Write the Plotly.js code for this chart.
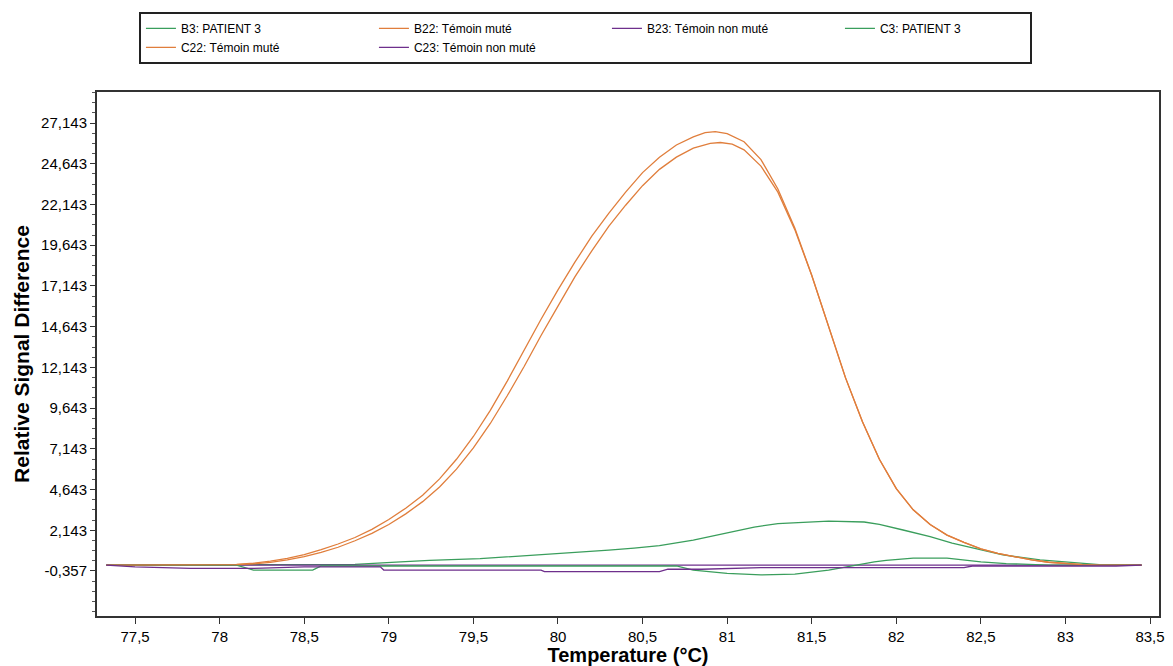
<!DOCTYPE html>
<html>
<head>
<meta charset="utf-8">
<script src="https://cdn.plot.ly/plotly-3.0.1.min.js"></script>
<style>html,body{margin:0;padding:0;background:#fff;}#chart{width:1173px;height:666px;}</style>
</head>
<body>
<div id="chart"></div>
<script>
// Series names
const seriesNames = ['B3: PATIENT 3', 'B22: Témoin muté', 'B23: Témoin non muté', 'C3: PATIENT 3', 'C22: Témoin muté', 'C23: Témoin non muté'];

// B22 (mutated control, higher peak)
const b22T = [77.33, 77.6, 77.8, 78.0, 78.1, 78.2, 78.3, 78.4, 78.5, 78.6, 78.7, 78.8, 78.9, 79.0, 79.1, 79.2, 79.3, 79.4, 79.5, 79.6, 79.7, 79.8, 79.9, 80.0, 80.1, 80.2, 80.3, 80.4, 80.5, 80.6, 80.7, 80.8, 80.87, 80.93, 81.0, 81.1, 81.2, 81.3, 81.4, 81.5, 81.6, 81.7, 81.8, 81.9, 82.0, 82.1, 82.2, 82.3, 82.4, 82.5, 82.6, 82.7, 82.8, 82.9, 83.0, 83.1, 83.2, 83.3, 83.45];
const b22V = [0, 0, 0.01, 0.02, 0.05, 0.12, 0.25, 0.42, 0.65, 0.95, 1.3, 1.7, 2.2, 2.8, 3.5, 4.3, 5.3, 6.5, 7.9, 9.5, 11.3, 13.2, 15.1, 16.9, 18.6, 20.2, 21.6, 22.9, 24.1, 25.05, 25.8, 26.3, 26.55, 26.62, 26.5, 26.0, 24.9, 23.1, 20.7, 17.8, 14.6, 11.5, 8.8, 6.5, 4.7, 3.4, 2.5, 1.85, 1.4, 1.0, 0.72, 0.5, 0.32, 0.18, 0.09, 0.03, 0, 0, 0];

// C22 (mutated control, lower peak)
const c22T = [77.33, 77.6, 77.8, 78.0, 78.1, 78.2, 78.3, 78.4, 78.5, 78.6, 78.7, 78.8, 78.9, 79.0, 79.1, 79.2, 79.3, 79.4, 79.5, 79.6, 79.7, 79.8, 79.9, 80.0, 80.1, 80.2, 80.3, 80.4, 80.5, 80.6, 80.7, 80.8, 80.9, 80.96, 81.03, 81.1, 81.2, 81.3, 81.4, 81.5, 81.6, 81.7, 81.8, 81.9, 82.0, 82.1, 82.2, 82.3, 82.4, 82.5, 82.6, 82.7, 82.8, 82.9, 83.0, 83.1, 83.2, 83.3, 83.45];
const c22V = [0, 0, 0, 0.01, 0.03, 0.08, 0.17, 0.32, 0.52, 0.78, 1.1, 1.5, 1.95, 2.5, 3.15, 3.9, 4.8, 5.9, 7.2, 8.7, 10.4, 12.2, 14.1, 15.9, 17.7, 19.3, 20.8, 22.1, 23.3, 24.3, 25.05, 25.6, 25.9, 25.95, 25.85, 25.5, 24.5, 22.9, 20.6, 17.8, 14.6, 11.5, 8.8, 6.5, 4.7, 3.4, 2.5, 1.85, 1.4, 1.0, 0.72, 0.5, 0.32, 0.18, 0.09, 0.03, 0, 0, 0];

// B3 (patient 3, broad bump)
const b3T = [77.33, 78.8, 79.07, 79.24, 79.54, 79.85, 80.14, 80.3, 80.45, 80.6, 80.8, 81.0, 81.16, 81.3, 81.46, 81.6, 81.81, 81.9, 82.04, 82.2, 82.33, 82.5, 82.63, 82.85, 83.06, 83.2, 83.45];
const b3V = [0, 0.05, 0.2, 0.3, 0.4, 0.6, 0.8, 0.93, 1.05, 1.2, 1.54, 2.0, 2.34, 2.55, 2.65, 2.7, 2.65, 2.5, 2.16, 1.75, 1.36, 0.95, 0.63, 0.32, 0.13, 0.03, 0];

// C3 (patient 3, dip then small bump)
const c3T = [77.33, 78.1, 78.2, 78.55, 78.6, 80.7, 80.8, 81.0, 81.2, 81.4, 81.6, 81.75, 81.87, 81.94, 82.1, 82.3, 82.4, 82.5, 82.65, 82.9, 83.45];
const c3V = [0, 0, -0.3, -0.3, -0.05, -0.05, -0.3, -0.5, -0.6, -0.55, -0.3, 0, 0.2, 0.3, 0.43, 0.43, 0.3, 0.2, 0.1, 0, 0];

// B23 (non-mutated control)
const b23T = [77.33, 79.0, 80.5, 81.8, 82.4, 83.0, 83.45];
const b23V = [0, 0, 0, 0.02, 0.03, 0.01, 0];

// C23 (non-mutated control)
const c23T = [77.33, 77.5, 77.83, 78.2, 78.5, 78.95, 78.97, 79.9, 79.92, 80.6, 80.65, 80.85, 81.2, 82.4, 82.45, 83.3, 83.45];
const c23V = [0, -0.1, -0.2, -0.2, -0.1, -0.1, -0.3, -0.3, -0.4, -0.4, -0.25, -0.25, -0.15, -0.15, -0.05, -0.05, 0];

// Tick labels
const xTickVals = [77.5, 78, 78.5, 79, 79.5, 80, 80.5, 81, 81.5, 82, 82.5, 83, 83.5];
const xTickText = ['77,5', '78', '78,5', '79', '79,5', '80', '80,5', '81', '81,5', '82', '82,5', '83', '83,5'];
const yTickVals = [-0.357, 2.143, 4.643, 7.143, 9.643, 12.143, 14.643, 17.143, 19.643, 22.143, 24.643, 27.143];
const yTickText = ['-0,357', '2,143', '4,643', '7,143', '9,643', '12,143', '14,643', '17,143', '19,643', '22,143', '24,643', '27,143'];

const GREEN = '#3a9e5c', ORANGE = '#e07e3c', PURPLE = '#6e2f8c';

function tr(x, y, name, color, lw) {
  const t = {x: x, y: y, name: name, type: 'scatter', mode: 'lines',
    line: {color: color, width: 1.3}, hoverinfo: 'skip'};
  if (lw) t.legendwidth = lw;
  return t;
}

const data = [
  tr(b3T, b3V, seriesNames[0], GREEN),
  tr(b22T, b22V, seriesNames[1], ORANGE),
  tr(b23T, b23V, seriesNames[2], PURPLE),
  tr(c3T, c3V, seriesNames[3], GREEN, 145),
  tr(c22T, c22V, seriesNames[4], ORANGE),
  tr(c23T, c23V, seriesNames[5], PURPLE)
];

const layout = {
  width: 1173, height: 666,
  margin: {l: 97, r: 14, t: 92, b: 50, autoexpand: false},
  paper_bgcolor: '#fff', plot_bgcolor: '#fff',
  font: {family: 'Liberation Sans, Arial, sans-serif', color: '#000', size: 13},
  showlegend: true,
  legend: {
    orientation: 'h', x: 0.0395, xanchor: 'left', y: 1.153, yanchor: 'top',
    entrywidth: 188, traceorder: 'normal',
    bordercolor: '#222', borderwidth: 2, bgcolor: '#fff',
    font: {family: 'Liberation Sans, Arial, sans-serif', size: 12, color: '#000'}
  },
  xaxis: {
    range: [77.275, 83.553], tickmode: 'array', tickvals: xTickVals, ticktext: xTickText,
    ticks: 'outside', ticklen: 6, tickcolor: '#333', tickwidth: 1,
    showline: true, linecolor: '#333', linewidth: 2, mirror: true,
    showgrid: false, zeroline: false,
    tickfont: {size: 15},
    title: {text: 'Temperature (°C)', font: {size: 20, weight: 'bold'}, standoff: 0}
  },
  yaxis: {
    range: [-3.12, 29.05], tickmode: 'array', tickvals: yTickVals, ticktext: yTickText,
    ticks: 'outside', ticklen: 5, tickcolor: '#333', tickwidth: 1,
    minor: {tick0: -0.357, dtick: 0.625, ticks: 'outside', ticklen: 3, tickcolor: '#555', showgrid: false},
    showline: true, linecolor: '#333', linewidth: 2, mirror: true,
    showgrid: false, zeroline: false,
    tickfont: {size: 15},
    title: {text: 'Relative Signal Difference', font: {size: 21, weight: 'bold'}, standoff: 6}
  }
};

Plotly.newPlot('chart', data, layout, {displayModeBar: false, staticPlot: true});
</script>
</body>
</html>
